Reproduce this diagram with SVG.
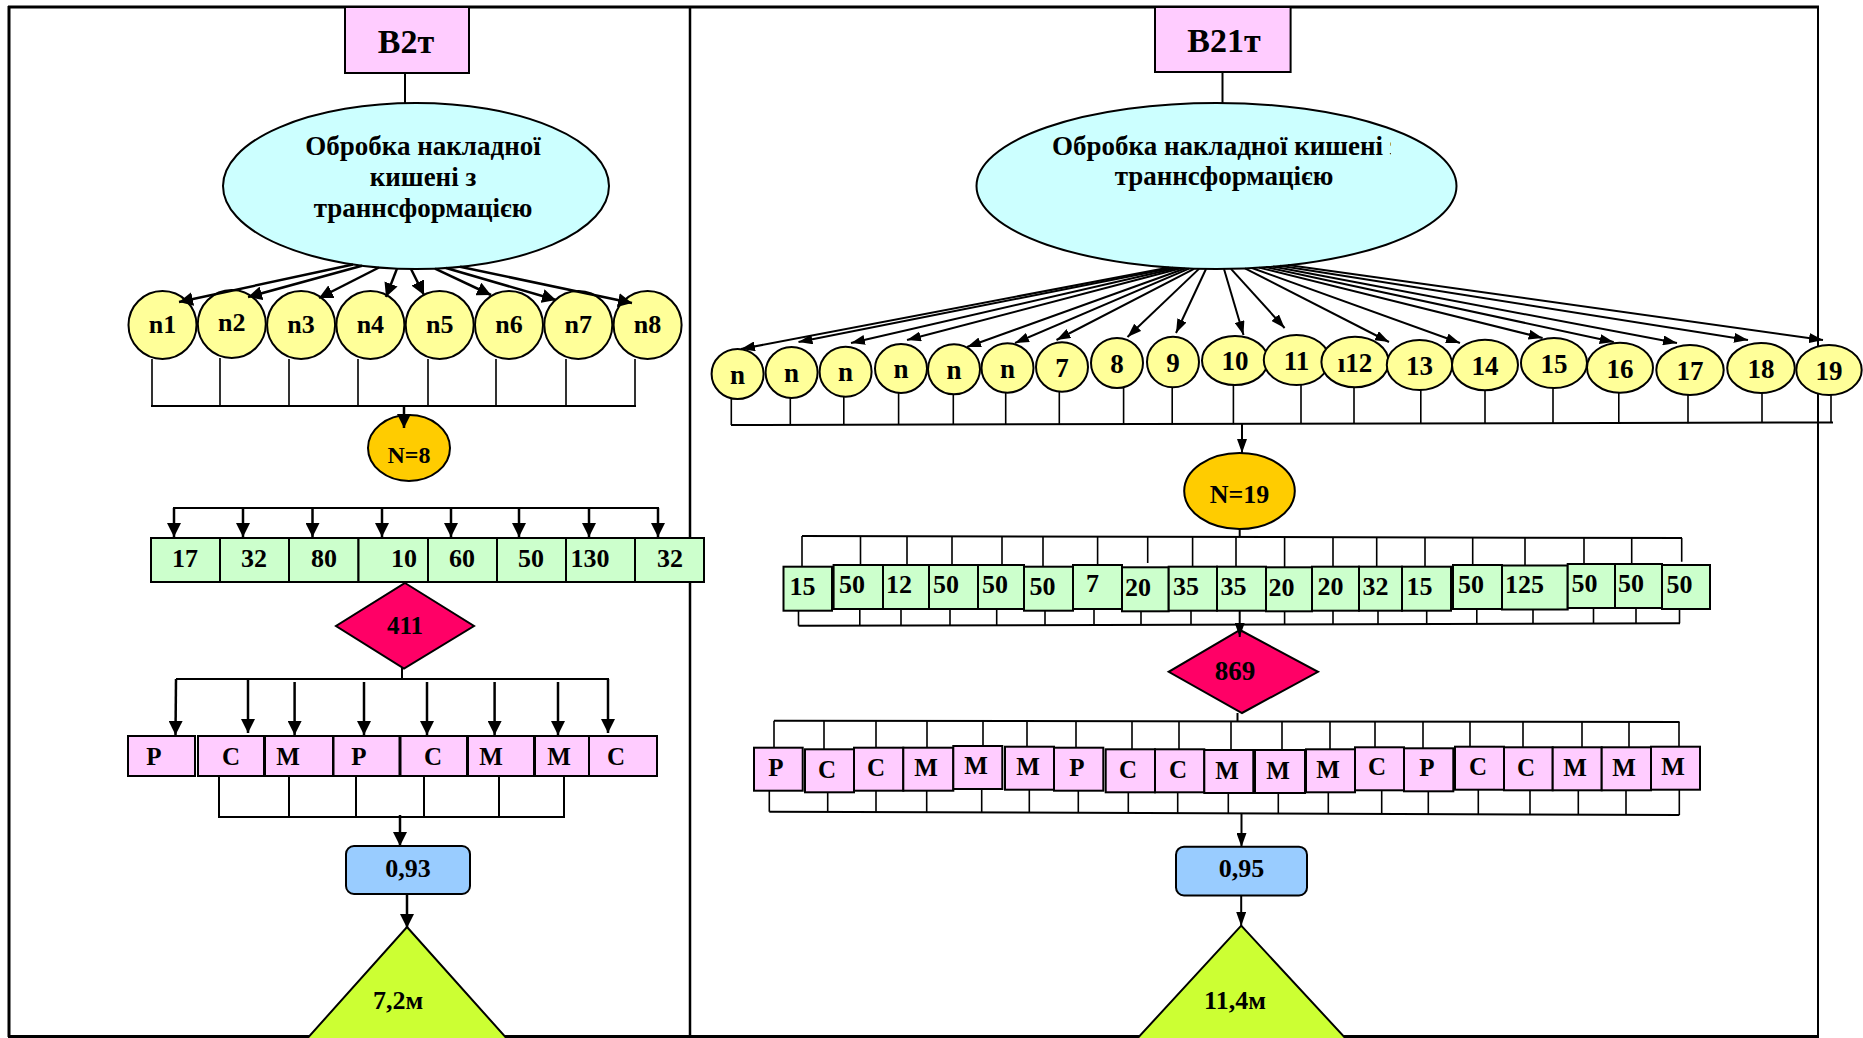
<svg xmlns="http://www.w3.org/2000/svg" width="1863" height="1038" viewBox="0 0 1863 1038">
<defs>
<style>
.t{font-family:"Liberation Serif","Times New Roman",serif;font-weight:bold;fill:#000;text-anchor:middle}
.ts{font-family:"Liberation Serif","Times New Roman",serif;font-weight:bold;fill:#000;text-anchor:start}
.pk{fill:#FFCCFF;stroke:#000;stroke-width:2}
.cy{fill:#CCFFFF;stroke:#000;stroke-width:2}
.yl{fill:#FFFF99;stroke:#000;stroke-width:2}
.or{fill:#FFCC00;stroke:#000;stroke-width:2}
.gr{fill:#CCFFCC;stroke:#000;stroke-width:2}
.rd{fill:#FF0066;stroke:#000;stroke-width:2}
.bl{fill:#99CCFF;stroke:#000;stroke-width:2}
.tr{fill:#CCFF33;stroke:#000;stroke-width:2}
.fr{stroke:#000;fill:none}
.c{stroke:#000;stroke-width:2;fill:none}
.ct{stroke:#000;stroke-width:1.6;fill:none}
.ca{stroke:#000;stroke-width:2.5;fill:none;marker-end:url(#a)}
.cb{stroke:#000;stroke-width:2;fill:none;marker-end:url(#b)}
</style>
<marker id="a" viewBox="0 0 14 14" refX="14" refY="7" markerWidth="14" markerHeight="14" markerUnits="userSpaceOnUse" orient="auto"><path d="M0,0 L14,7 L0,14 Z" fill="#000"/></marker>
<marker id="b" viewBox="0 0 14 10" refX="14" refY="5" markerWidth="14" markerHeight="10" markerUnits="userSpaceOnUse" orient="auto"><path d="M0,0 L14,5 L0,10 Z" fill="#000"/></marker>
<clipPath id="clipR"><rect x="1000" y="120" width="391" height="45"/></clipPath>
</defs>
<rect x="0" y="0" width="1863" height="1038" fill="#fff"/>

<g id="frame">
<line class="fr" x1="8" y1="7" x2="1819" y2="7" stroke-width="3"/>
<line class="fr" x1="9" y1="6" x2="9" y2="1037" stroke-width="3"/>
<line class="fr" x1="690" y1="7" x2="690" y2="1037" stroke-width="2.5"/>
<line class="fr" x1="1818" y1="6" x2="1818" y2="1037" stroke-width="2"/>
<line class="fr" x1="8" y1="1036.5" x2="1819" y2="1036.5" stroke-width="3"/>
</g>

<!-- LEFT PANEL NODES -->
<g id="b2t"><rect class="pk" x="345" y="7" width="124" height="66"/><text class="t" x="406" y="53" font-size="34">В2т</text></g>
<g id="proc-left"><ellipse class="cy" cx="416" cy="186" rx="193" ry="83"/>
<text class="t" x="423" y="155" font-size="27">Обробка накладної</text>
<text class="t" x="423" y="186" font-size="27">кишені з</text>
<text class="t" x="423" y="217" font-size="27">траннсформацією</text></g>
<g id="nl1"><ellipse class="yl" cx="162.5" cy="325" rx="34" ry="34"/><text class="t" x="162.5" y="333" font-size="26">n1</text></g>
<g id="nl2"><ellipse class="yl" cx="231.8" cy="324" rx="34" ry="34"/><text class="t" x="231.8" y="331" font-size="26">n2</text></g>
<g id="nl3"><ellipse class="yl" cx="301.1" cy="325" rx="34" ry="34"/><text class="t" x="301.1" y="333" font-size="26">n3</text></g>
<g id="nl4"><ellipse class="yl" cx="370.4" cy="325" rx="34" ry="34"/><text class="t" x="370.4" y="333" font-size="26">n4</text></g>
<g id="nl5"><ellipse class="yl" cx="439.7" cy="325" rx="34" ry="34"/><text class="t" x="439.7" y="333" font-size="26">n5</text></g>
<g id="nl6"><ellipse class="yl" cx="509" cy="325" rx="34" ry="34"/><text class="t" x="509" y="333" font-size="26">n6</text></g>
<g id="nl7"><ellipse class="yl" cx="578.3" cy="325" rx="34" ry="34"/><text class="t" x="578.3" y="333" font-size="26">n7</text></g>
<g id="nl8"><ellipse class="yl" cx="647.6" cy="325" rx="34" ry="34"/><text class="t" x="647.6" y="333" font-size="26">n8</text></g>
<g id="N8"><ellipse class="or" cx="409" cy="448" rx="41" ry="33"/><text class="t" x="409" y="463" font-size="24">N=8</text></g>
<g id="green-left">
<rect class="gr" x="151" y="538" width="69" height="44"/>
<rect class="gr" x="220" y="538" width="69" height="44"/>
<rect class="gr" x="289" y="538" width="69.5" height="44"/>
<rect class="gr" x="358.5" y="538" width="69.5" height="44"/>
<rect class="gr" x="428" y="538" width="69" height="44"/>
<rect class="gr" x="497" y="538" width="69" height="44"/>
<rect class="gr" x="566" y="538" width="69" height="44"/>
<rect class="gr" x="635" y="538" width="69" height="44"/>
<text class="t" x="185" y="567" font-size="26">17</text>
<text class="t" x="254" y="567" font-size="26">32</text>
<text class="t" x="324" y="567" font-size="26">80</text>
<text class="t" x="404" y="567" font-size="26">10</text>
<text class="t" x="462" y="567" font-size="26">60</text>
<text class="t" x="531" y="567" font-size="26">50</text>
<text class="t" x="590" y="567" font-size="26">130</text>
<text class="t" x="670" y="567" font-size="26">32</text>
</g>
<g id="d411"><polygon class="rd" points="405,583 474,626 404,668.5 336,626"/><text class="t" x="405" y="634" font-size="25">411</text></g>
<g id="pink-left">
<rect class="pk" x="128" y="736" width="67" height="40"/>
<rect class="pk" x="198" y="736" width="66" height="40"/>
<rect class="pk" x="265" y="736" width="68" height="40"/>
<rect class="pk" x="333.5" y="736" width="66" height="40"/>
<rect class="pk" x="400.5" y="736" width="66.5" height="40"/>
<rect class="pk" x="468" y="736" width="66" height="40"/>
<rect class="pk" x="535" y="736" width="54" height="40"/>
<rect class="pk" x="589" y="736" width="68" height="40"/>
<text class="t" x="154" y="765" font-size="25">Р</text>
<text class="t" x="231" y="765" font-size="25">С</text>
<text class="t" x="288" y="765" font-size="25">М</text>
<text class="t" x="359" y="765" font-size="25">Р</text>
<text class="t" x="433" y="765" font-size="25">С</text>
<text class="t" x="491" y="765" font-size="25">М</text>
<text class="t" x="559" y="765" font-size="25">М</text>
<text class="t" x="616" y="765" font-size="25">С</text>
</g>
<g id="v093"><rect class="bl" x="346" y="846" width="124" height="48" rx="8"/><text class="t" x="408" y="877" font-size="26">0,93</text></g>
<g id="t72"><polygon class="tr" points="407,927 509,1041 305,1041"/><text class="t" x="398" y="1009" font-size="26">7,2м</text></g>

<!-- RIGHT PANEL NODES -->
<g id="b21t"><rect class="pk" x="1155" y="7" width="135.6" height="65"/><text class="t" x="1224" y="52" font-size="34">В21т</text></g>
<g id="proc-right"><ellipse class="cy" cx="1216.5" cy="186" rx="240" ry="83"/>
<text class="ts" x="1052" y="155" font-size="27" clip-path="url(#clipR)">Обробка накладної кишені з</text>
<text class="t" x="1224" y="185" font-size="27">траннсформацією</text></g>
<g id="nr1"><ellipse class="yl" cx="737.6" cy="374" rx="26" ry="25"/><text class="t" x="737.6" y="383.5" font-size="27">n</text></g>
<g id="nr2"><ellipse class="yl" cx="791.6" cy="372.5" rx="26" ry="25.5"/><text class="t" x="791.6" y="382" font-size="27">n</text></g>
<g id="nr3"><ellipse class="yl" cx="845.6" cy="371.7" rx="26" ry="25"/><text class="t" x="845.6" y="381" font-size="27">n</text></g>
<g id="nr4"><ellipse class="yl" cx="901" cy="368.5" rx="26" ry="24.5"/><text class="t" x="901" y="378" font-size="27">n</text></g>
<g id="nr5"><ellipse class="yl" cx="954" cy="369.3" rx="26" ry="25"/><text class="t" x="954" y="379" font-size="27">n</text></g>
<g id="nr6"><ellipse class="yl" cx="1007.5" cy="368" rx="26" ry="24.7"/><text class="t" x="1007.5" y="377.5" font-size="27">n</text></g>
<g id="nr7"><ellipse class="yl" cx="1062" cy="367" rx="26" ry="24.7"/><text class="t" x="1062" y="377" font-size="27">7</text></g>
<g id="nr8"><ellipse class="yl" cx="1117" cy="363" rx="26" ry="25"/><text class="t" x="1117" y="373" font-size="27">8</text></g>
<g id="nr9"><ellipse class="yl" cx="1173" cy="362" rx="26" ry="25.3"/><text class="t" x="1173" y="372" font-size="27">9</text></g>
<g id="nr10"><ellipse class="yl" cx="1235" cy="360.5" rx="33" ry="24.5"/><text class="t" x="1235" y="370" font-size="27">10</text></g>
<g id="nr11"><ellipse class="yl" cx="1296.5" cy="360" rx="32.7" ry="25"/><text class="t" x="1296.5" y="370" font-size="27">11</text></g>
<g id="nr12"><ellipse class="yl" cx="1355" cy="362" rx="33.6" ry="25.3"/><text class="t" x="1355" y="372" font-size="27">ı12</text></g>
<g id="nr13"><ellipse class="yl" cx="1419.5" cy="365" rx="32.7" ry="25"/><text class="t" x="1419.5" y="375" font-size="27">13</text></g>
<g id="nr14"><ellipse class="yl" cx="1485" cy="365" rx="33" ry="25.3"/><text class="t" x="1485" y="375" font-size="27">14</text></g>
<g id="nr15"><ellipse class="yl" cx="1554" cy="363" rx="33" ry="25"/><text class="t" x="1554" y="373" font-size="27">15</text></g>
<g id="nr16"><ellipse class="yl" cx="1620" cy="367.7" rx="33" ry="25"/><text class="t" x="1620" y="378" font-size="27">16</text></g>
<g id="nr17"><ellipse class="yl" cx="1690" cy="370" rx="33.7" ry="25"/><text class="t" x="1690" y="380" font-size="27">17</text></g>
<g id="nr18"><ellipse class="yl" cx="1761" cy="368" rx="33.8" ry="25"/><text class="t" x="1761" y="378" font-size="27">18</text></g>
<g id="nr19"><ellipse class="yl" cx="1829" cy="370" rx="32.7" ry="25"/><text class="t" x="1829" y="380" font-size="27">19</text></g>
<g id="N19"><ellipse class="or" cx="1239.5" cy="491" rx="55.3" ry="38"/><text class="t" x="1239.5" y="503" font-size="26">N=19</text></g>
<g id="green-right">
<rect class="gr" x="783.5" y="566.7" width="48.5" height="44"/>
<rect class="gr" x="833.6" y="565" width="49.4" height="44"/>
<rect class="gr" x="883" y="565" width="46" height="44"/>
<rect class="gr" x="929" y="565" width="49" height="44"/>
<rect class="gr" x="978" y="565" width="46" height="44"/>
<rect class="gr" x="1024" y="566.7" width="49" height="44"/>
<rect class="gr" x="1073" y="565" width="49" height="44"/>
<rect class="gr" x="1122" y="567.3" width="46.7" height="44"/>
<rect class="gr" x="1168.7" y="566.7" width="48.3" height="44"/>
<rect class="gr" x="1217" y="566.7" width="49" height="44"/>
<rect class="gr" x="1266" y="567.3" width="46" height="44"/>
<rect class="gr" x="1312" y="566.7" width="47" height="44"/>
<rect class="gr" x="1359" y="566.7" width="43" height="44"/>
<rect class="gr" x="1402" y="566.7" width="49" height="44"/>
<rect class="gr" x="1453" y="565" width="49" height="44"/>
<rect class="gr" x="1502" y="565.5" width="65.7" height="44"/>
<rect class="gr" x="1567.7" y="564" width="47.3" height="44"/>
<rect class="gr" x="1615" y="564" width="47" height="44"/>
<rect class="gr" x="1662" y="565" width="48" height="44"/>
<text class="ts" x="789.5" y="595" font-size="26">15</text>
<text class="ts" x="839" y="593" font-size="26">50</text>
<text class="ts" x="886" y="593" font-size="26">12</text>
<text class="ts" x="933" y="593" font-size="26">50</text>
<text class="ts" x="982" y="593" font-size="26">50</text>
<text class="ts" x="1029.5" y="595" font-size="26">50</text>
<text class="ts" x="1086" y="592" font-size="26">7</text>
<text class="ts" x="1125" y="596" font-size="26">20</text>
<text class="ts" x="1173" y="595" font-size="26">35</text>
<text class="ts" x="1220.5" y="595" font-size="26">35</text>
<text class="ts" x="1268.5" y="596" font-size="26">20</text>
<text class="ts" x="1317.5" y="595" font-size="26">20</text>
<text class="ts" x="1362.5" y="595" font-size="26">32</text>
<text class="ts" x="1406.5" y="595" font-size="26">15</text>
<text class="ts" x="1458" y="593" font-size="26">50</text>
<text class="ts" x="1505" y="593" font-size="26">125</text>
<text class="ts" x="1571.5" y="592" font-size="26">50</text>
<text class="ts" x="1618" y="592" font-size="26">50</text>
<text class="ts" x="1666.5" y="593" font-size="26">50</text>
</g>
<g id="d869"><polygon class="rd" points="1240,630 1318,671.8 1242,713 1168.7,671.8"/><text class="t" x="1235" y="680" font-size="27">869</text></g>
<g id="pink-right">
<rect class="pk" x="754" y="747.7" width="48.7" height="43"/>
<rect class="pk" x="805" y="749.3" width="49" height="43"/>
<rect class="pk" x="854" y="747.7" width="49.3" height="43"/>
<rect class="pk" x="903.3" y="747.7" width="50" height="43"/>
<rect class="pk" x="953.3" y="746" width="49" height="43"/>
<rect class="pk" x="1005" y="746.7" width="49" height="43"/>
<rect class="pk" x="1054" y="747.7" width="49.3" height="43"/>
<rect class="pk" x="1105.7" y="749.3" width="49.3" height="43"/>
<rect class="pk" x="1155" y="749.3" width="49.3" height="43"/>
<rect class="pk" x="1204.3" y="750" width="49" height="43"/>
<rect class="pk" x="1255" y="750" width="50" height="43"/>
<rect class="pk" x="1306" y="749.3" width="49" height="43"/>
<rect class="pk" x="1355" y="747.3" width="49" height="43"/>
<rect class="pk" x="1404" y="748.3" width="49.3" height="43"/>
<rect class="pk" x="1455" y="746.7" width="49" height="43"/>
<rect class="pk" x="1504" y="747.3" width="48.7" height="43"/>
<rect class="pk" x="1552.7" y="747.3" width="49" height="43"/>
<rect class="pk" x="1601.7" y="747.3" width="49.3" height="43"/>
<rect class="pk" x="1651" y="746.7" width="49" height="43"/>
<text class="t" x="776" y="776" font-size="25">Р</text>
<text class="t" x="827" y="778" font-size="25">С</text>
<text class="t" x="876" y="776" font-size="25">С</text>
<text class="t" x="926" y="776" font-size="25">М</text>
<text class="t" x="976" y="774" font-size="25">М</text>
<text class="t" x="1028" y="775" font-size="25">М</text>
<text class="t" x="1077" y="776" font-size="25">Р</text>
<text class="t" x="1128" y="778" font-size="25">С</text>
<text class="t" x="1178" y="778" font-size="25">С</text>
<text class="t" x="1227" y="779" font-size="25">М</text>
<text class="t" x="1278" y="779" font-size="25">М</text>
<text class="t" x="1328" y="778" font-size="25">М</text>
<text class="t" x="1377" y="775" font-size="25">С</text>
<text class="t" x="1427" y="776" font-size="25">Р</text>
<text class="t" x="1478" y="775" font-size="25">С</text>
<text class="t" x="1526" y="776" font-size="25">С</text>
<text class="t" x="1575" y="776" font-size="25">М</text>
<text class="t" x="1624" y="776" font-size="25">М</text>
<text class="t" x="1673" y="775" font-size="25">М</text>
</g>
<g id="v095"><rect class="bl" x="1176" y="846.7" width="131" height="48.8" rx="8"/><text class="t" x="1241.5" y="877" font-size="26">0,95</text></g>
<g id="t114"><polygon class="tr" points="1241.2,925.6 1348,1041 1135,1041"/><text class="t" x="1235" y="1009" font-size="26">11,4м</text></g>

<g id="connectors">
<!-- left -->
<line class="c" x1="405" y1="73" x2="405" y2="103"/>
<line class="ca" x1="353" y1="264.5" x2="179" y2="302"/>
<line class="ca" x1="362" y1="265.7" x2="248" y2="297"/>
<line class="ca" x1="379" y1="267.5" x2="319" y2="298"/>
<line class="ca" x1="397" y1="268.6" x2="386" y2="297"/>
<line class="ca" x1="411" y1="269" x2="424" y2="295"/>
<line class="ca" x1="435" y1="268.6" x2="491" y2="295"/>
<line class="ca" x1="446" y1="268" x2="556" y2="300"/>
<line class="ca" x1="460" y1="266.8" x2="632" y2="303"/>
<path class="ct" d="M152,359V406 M220,358V406 M289,359V406 M358,359V406 M428,359V406 M496,359V406 M566,359V406 M635,359V406"/>
<line class="c" x1="151" y1="406" x2="636" y2="406" stroke-width="2.5"/>
<line class="ca" x1="404" y1="406" x2="404" y2="428"/>
<line class="c" x1="173" y1="508" x2="659" y2="508" stroke-width="2.5"/>
<line class="ca" x1="174" y1="508" x2="174" y2="537"/>
<line class="ca" x1="243" y1="508" x2="243" y2="537"/>
<line class="ca" x1="312.5" y1="508" x2="312.5" y2="537"/>
<line class="ca" x1="382" y1="508" x2="382" y2="537"/>
<line class="ca" x1="451" y1="508" x2="451" y2="537"/>
<line class="ca" x1="519" y1="508" x2="519" y2="537"/>
<line class="ca" x1="589" y1="508" x2="589" y2="537"/>
<line class="ca" x1="658" y1="508" x2="658" y2="537"/>
<line class="c" x1="402" y1="668" x2="402" y2="679"/>
<line class="c" x1="176" y1="679" x2="609" y2="679" stroke-width="2.5"/>
<line class="ca" x1="176" y1="679" x2="175.5" y2="735"/>
<line class="ca" x1="248" y1="679" x2="248" y2="733"/>
<line class="ca" x1="294.6" y1="682" x2="294.6" y2="735"/>
<line class="ca" x1="364" y1="682" x2="364" y2="735"/>
<line class="ca" x1="427" y1="682" x2="427" y2="735"/>
<line class="ca" x1="494.6" y1="682" x2="494.6" y2="735"/>
<line class="ca" x1="558" y1="682" x2="558" y2="735"/>
<line class="ca" x1="608" y1="679" x2="608" y2="733"/>
<path class="c" d="M219,776V817 M289,776V817 M356,776V817 M424,776V817 M499,776V817 M564,776V817 M218,817H565"/>
<line class="ca" x1="400" y1="815" x2="400" y2="846"/>
<line class="ca" x1="407" y1="894" x2="407" y2="928"/>
<!-- right -->
<line class="c" x1="1222.5" y1="72" x2="1222.5" y2="103"/>
<line class="cb" x1="1169" y1="267.5" x2="741" y2="349"/>
<line class="cb" x1="1173" y1="267.8" x2="798.5" y2="342"/>
<line class="cb" x1="1177" y1="268" x2="851" y2="343"/>
<line class="cb" x1="1181" y1="268.3" x2="907" y2="340"/>
<line class="cb" x1="1185" y1="268.5" x2="967" y2="347"/>
<line class="cb" x1="1189" y1="268.7" x2="1015" y2="343"/>
<line class="cb" x1="1194" y1="268.8" x2="1056.5" y2="340"/>
<line class="cb" x1="1199" y1="268.9" x2="1127.5" y2="337"/>
<line class="cb" x1="1206" y1="269" x2="1176" y2="333"/>
<line class="cb" x1="1224" y1="269" x2="1243.5" y2="335"/>
<line class="cb" x1="1231" y1="268.9" x2="1284.6" y2="328"/>
<line class="cb" x1="1245" y1="268.4" x2="1389" y2="342"/>
<line class="cb" x1="1252" y1="268" x2="1460" y2="343"/>
<line class="cb" x1="1259" y1="267.6" x2="1542.6" y2="338"/>
<line class="cb" x1="1266" y1="267.1" x2="1613.7" y2="342"/>
<line class="cb" x1="1273" y1="266.5" x2="1677" y2="343"/>
<line class="cb" x1="1280" y1="265.8" x2="1748" y2="340"/>
<line class="cb" x1="1288" y1="265" x2="1823" y2="340"/>
<path class="ct" d="M731.3,399V425 M790.3,398V425 M843.8,396.7V425 M898.6,393V425 M953.3,394.3V424.8 M1005.7,392.7V424.7 M1059.3,391.7V424.6 M1123.6,388V424.5 M1172.2,387.3V424.4 M1233.4,385V424.3 M1301,385V424 M1354,387.3V424 M1420.8,390V423.8 M1485,390.3V423.7 M1553,388V423.5 M1618.8,392.7V423.4 M1688,395V423.2 M1762,393V423 M1831,395V422.5"/>
<line class="c" x1="731" y1="425" x2="1833" y2="422.5"/>
<line class="cb" x1="1242" y1="424" x2="1242" y2="453"/>
<line class="c" x1="1239.7" y1="529" x2="1239.7" y2="537"/>
<line class="c" x1="802" y1="536" x2="1682" y2="538"/>
<path class="ct" d="M802,536V566.7 M860.5,536V565 M907,536V565 M952,536V565 M1002,536V565 M1043,536V566.7 M1097.6,536.5V565 M1147.7,536.5V563 M1192.6,536.5V566.7 M1236,537V566.7 M1284.6,537V567.3 M1333,537V566.7 M1376.7,537V566.7 M1425,537.5V566.7 M1472.7,537.5V565 M1525,537.5V565.5 M1584,537.5V564 M1631.7,538V564 M1681.7,538V561.7"/>
<path class="ct" d="M798.5,610.7V625.8 M859.8,609V625.7 M901,609V625.6 M950,609V625.5 M996.7,609V625.4 M1045,610.7V625.3 M1094,609V625.2 M1141,611.3V625 M1191,610.7V624.9 M1284.6,611.3V624.6 M1333,610.7V624.5 M1378,610.7V624.4 M1426.7,610.7V624.2 M1476.8,609V624 M1533,609.5V623.8 M1593.5,608V623.6 M1636,608V623.5 M1679.5,609V623.3"/>
<line class="c" x1="798.5" y1="625.8" x2="1680" y2="623.2"/>
<line class="cb" x1="1239.7" y1="610.7" x2="1239.7" y2="637"/>
<line class="c" x1="1237.5" y1="713" x2="1237.5" y2="721.5"/>
<line class="c" x1="774" y1="720.7" x2="1679.5" y2="722"/>
<path class="ct" d="M774,720.7V747.7 M824,720.8V749.3 M876,720.8V747.7 M927,720.9V747.7 M983,721V746 M1027,721V746.7 M1076,721.1V747.7 M1132,721.2V749.3 M1179,721.3V749.3 M1231,721.4V750 M1282,721.4V750 M1330,721.5V749.3 M1375,721.5V747.3 M1423,721.6V748.3 M1470,721.7V746.7 M1523,721.8V747.3 M1582,721.9V747.3 M1629,721.9V747.3 M1679,722V746.7"/>
<path class="ct" d="M769.3,790.7V811.7 M827.7,792.3V812 M876,790.7V812.1 M926.7,790.7V812.3 M981.7,789V812.5 M1029.3,789.7V812.7 M1078.3,790.7V812.9 M1128.3,792.3V813.1 M1177.7,792.3V813.3 M1228.3,793V813.5 M1278.3,793V813.7 M1328.3,792.3V813.9 M1381.7,790.3V814.1 M1428.3,791.3V814.2 M1478.3,789.7V814.4 M1530,790.3V814.6 M1578.3,790.3V814.8 M1626,790.3V814.9 M1679.3,789.7V815"/>
<line class="c" x1="769.3" y1="811.7" x2="1679.3" y2="815"/>
<line class="cb" x1="1241.5" y1="814" x2="1241.5" y2="847"/>
<line class="cb" x1="1241.2" y1="895.5" x2="1241.2" y2="926"/>
</g>
</svg>
